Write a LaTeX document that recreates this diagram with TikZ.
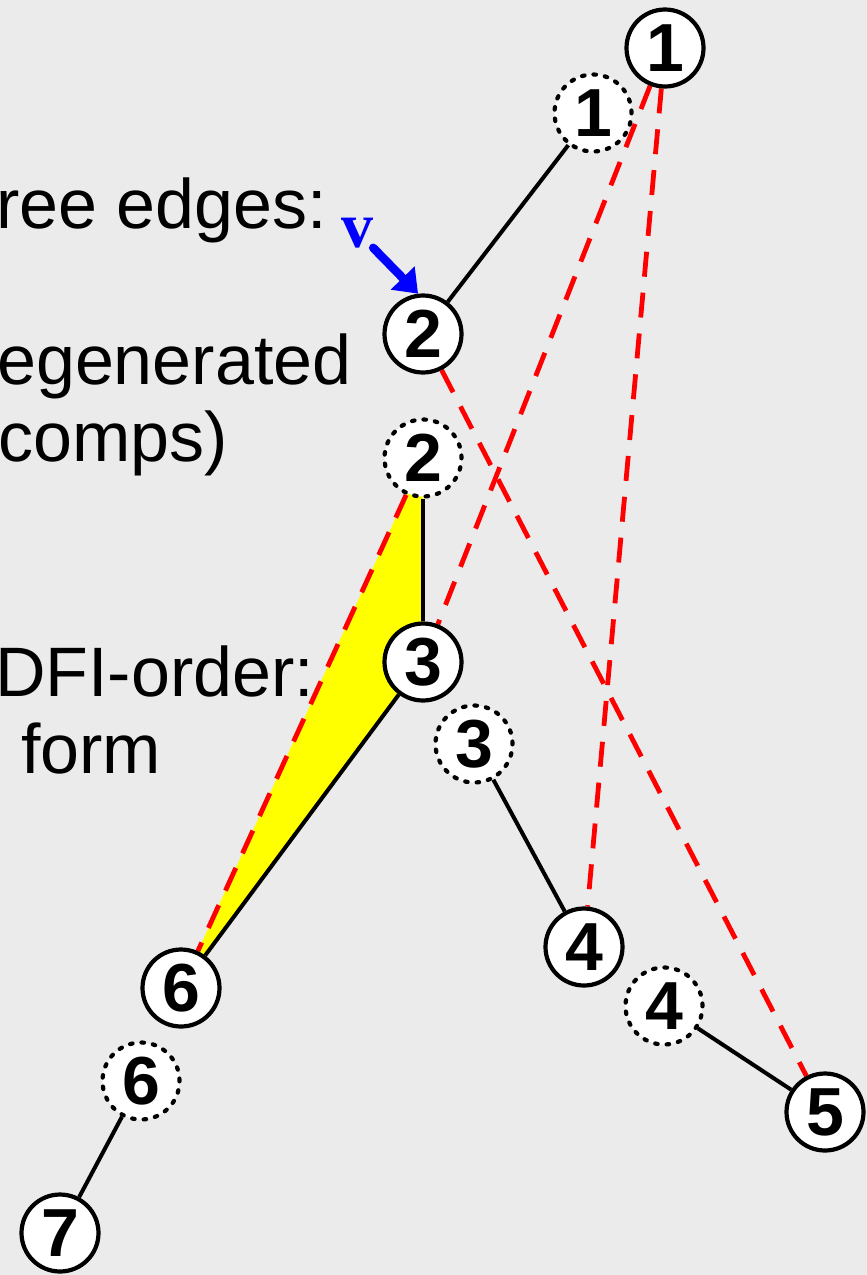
\documentclass[tikz,border=0pt]{standalone}
\usepackage{fontspec}
\setmainfont{Liberation Sans}
\newfontfamily\vfont{Liberation Serif}
\usetikzlibrary{arrows.meta}
\pgfdeclarelayer{bg}
\pgfdeclarelayer{edges}
\pgfsetlayers{bg,edges,main}
\definecolor{paper}{RGB}{235,235,235}
\definecolor{hilite}{RGB}{255,255,0}
\tikzset{
  solidnode/.style={circle, draw=black, fill=white, line width=4.2pt,
    minimum size=77pt, inner sep=0pt, font=\fontsize{68}{68}\selectfont\bfseries},
  dottednode/.style={solidnode, line cap=round, dash pattern=on 2.5pt off 9pt},
  treeedge/.style={draw=black, line width=4pt},
  backedge/.style={draw=red, line width=4.8pt, dash pattern=on 25pt off 16pt},
  sidetext/.style={anchor=base west, inner sep=0pt,
    font=\fontsize{70}{70}\selectfont},
  varrow/.style={draw=blue, line width=8.5pt, line cap=round,
    -{Triangle[length=22pt,width=32pt]}},
}
\begin{document}
\begin{tikzpicture}[x=1pt,y=-1pt]
\begin{pgfonlayer}{bg}
  \fill[paper] (0,0) rectangle (867,1275);
\end{pgfonlayer}
\useasboundingbox (0,0) rectangle (867,1275);

% side text
\node[sidetext] (t1) at (-4,228) {ree edges:};
\node[sidetext] (t2) at (-3,384) {egenerated};
\node[sidetext] (t3) at (-2,461) {comps)};
\node[sidetext] (t4) at (-5,696) {DFI-order:};
\node[sidetext] (t5) at (21,773) {form};

% vertices
\node[solidnode]  (S1) at (665,48)  {1};
\node[dottednode] (D1) at (593,113) {1};
\node[solidnode]  (S2) at (423,334) {2};
\node[dottednode] (D2) at (423,458) {2};
\node[solidnode]  (S3) at (423,662) {3};
\node[dottednode] (D3) at (474,744) {3};
\node[solidnode]  (S4) at (584,947) {4};
\node[dottednode] (D4) at (664,1006) {4};
\node[solidnode]  (S5) at (825,1112) {5};
\node[solidnode]  (S6) at (181,988) {6};
\node[dottednode] (D6) at (141,1081) {6};
\node[solidnode]  (S7) at (60,1233) {7};

% marker v
\node[anchor=base, inner sep=0pt, text=blue,
  font=\fontsize{64}{64}\selectfont\vfont\bfseries] (v) at (357,247) {v};
\draw[varrow] (v.south east) -- (S2.97);

\begin{pgfonlayer}{edges}
  % highlighted component
  \fill[hilite] (D2.center) -- (S3.center) -- (S6.center) -- cycle;
  % tree edges
  \draw[treeedge] (D1) -- (S2);
  \draw[treeedge] (D2) -- (S3);
  \draw[treeedge] (S3) -- (S6);
  \draw[treeedge] (D3) -- (S4);
  \draw[treeedge] (D4) -- (S5);
  \draw[treeedge] (D6) -- (S7);
  % back edges
  \draw[backedge] (S1) -- (S3);
  \draw[backedge] (S1) -- (S4);
  \draw[backedge] (S2) -- (S5);
  \draw[backedge] (D2) -- (S6);
\end{pgfonlayer}
\end{tikzpicture}
\end{document}
